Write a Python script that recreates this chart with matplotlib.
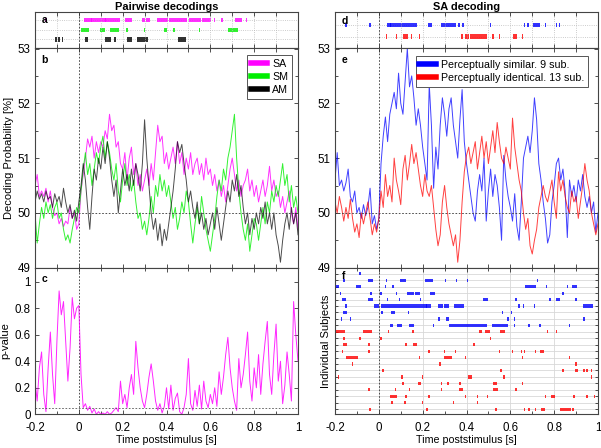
import numpy as np
import matplotlib
matplotlib.use('Agg')
import matplotlib.pyplot as plt
from matplotlib.ticker import MultipleLocator, NullFormatter

plt.rcParams['font.family'] = ['Liberation Sans', 'DejaVu Sans']
plt.rcParams['font.size'] = 8

## time axis, 10 ms steps from -0.2 to 1.0 s
t = np.round(np.arange(-0.2, 1.0001, 0.01), 2)

## panel b: pairwise decoding probability [%]
sa = [50.5, 50.7, 50.3, 50.4, 50.3, 50.45, 50.2, 50.4, 50.1, 49.95,
      50.0, 49.8, 49.9, 49.75, 49.85, 49.8, 50.1, 49.9, 50.0, 49.7,
      49.8, 50.4, 50.7, 51.0, 51.35, 51.2, 51.4, 51.0, 51.3, 51.1,
      51.3, 51.2, 51.5, 51.35, 51.8, 51.5, 51.6, 51.2, 51.3, 50.9,
      50.8, 51.1, 50.6, 51.0, 51.2, 50.7, 50.9, 50.5, 50.7, 50.4,
      50.6, 50.8, 50.5, 50.9, 50.6, 51.1, 51.6, 51.3, 51.4, 50.9,
      51.1, 50.8, 51.0, 51.2, 50.9, 51.3, 50.9, 51.1, 50.7, 51.0,
      50.8, 51.1, 50.7, 50.9, 51.0, 50.7, 50.9, 50.6, 51.0, 50.7,
      50.8, 50.5, 50.7, 50.4, 50.6, 50.3, 50.5, 50.2, 50.5, 50.8,
      51.0, 50.7, 50.4, 50.6, 50.3, 50.5, 50.6, 50.8, 50.4, 50.6,
      50.3, 50.5, 50.2, 50.4, 50.6, 50.3, 50.5, 50.85, 50.4, 50.6,
      50.3, 50.4, 50.1, 50.3, 50.0, 50.2, 50.4, 50.0, 49.8, 50.1,
      49.7]
sm = [50.0, 49.45, 49.8, 50.1, 49.9, 50.2, 50.0, 50.15, 49.9, 50.1,
      50.2, 49.9, 50.0, 49.7, 49.5, 49.6, 49.45, 49.7, 49.9, 50.1,
      50.0, 50.4, 50.8, 51.1, 50.7, 50.9, 50.5, 50.8, 51.1, 50.9,
      51.2, 51.4, 51.0, 51.3, 51.1, 50.8, 50.6, 50.9, 50.4, 50.2,
      50.6, 50.9, 50.5, 50.7, 50.4, 50.6, 50.2, 49.9, 50.0, 49.7,
      49.85, 49.6, 49.9, 50.3, 50.0, 50.5, 50.3, 50.7, 50.4, 50.6,
      50.3, 50.5, 50.2, 49.9, 50.1, 49.7, 49.9, 50.2, 50.0, 50.4,
      50.2, 49.8, 49.45, 49.8, 50.1, 49.8, 50.3, 50.0, 49.7, 49.5,
      49.3, 49.6, 49.9, 50.3, 50.6, 50.4, 50.8, 50.6, 51.0, 51.2,
      51.5, 51.8, 51.0, 50.4, 50.0, 49.7, 49.5, 49.8, 49.3, 49.6,
      49.9, 49.8, 49.5, 49.8, 50.1, 49.8, 50.2, 50.0, 50.4, 50.2,
      50.5, 50.3, 50.6, 50.9, 50.5, 50.7, 50.2, 50.5, 50.1, 50.3,
      50.0]
am = [50.2, 50.4, 50.25, 50.35, 50.2, 50.4, 50.25, 50.3, 50.1, 50.35,
      50.2, 50.3, 50.1, 50.45, 50.2, 50.0, 50.15, 49.9, 50.05, 49.85,
      50.2, 50.5, 50.9, 50.6, 50.1, 49.7, 50.3, 50.8, 50.6, 51.0,
      50.8, 51.2, 50.9, 51.3, 51.0, 50.6, 50.3, 50.6, 50.0, 50.4,
      50.8, 50.5, 50.7, 50.4, 50.8, 50.5, 50.9, 50.7, 50.4, 50.9,
      51.7, 51.0, 50.5, 50.0, 49.7, 49.9, 49.5, 49.8, 49.4, 49.7,
      49.5, 49.8, 50.1, 50.4, 50.8, 51.3, 51.1, 51.25, 50.9, 50.6,
      50.2, 50.4, 50.1, 49.9, 50.2, 49.8, 50.0, 49.7, 49.9, 49.6,
      49.8, 50.0, 49.7, 50.1, 49.8, 49.5, 49.8, 50.1, 50.4, 50.2,
      50.6, 50.4, 50.7, 50.3, 50.5, 50.1, 49.8, 50.0, 49.6, 49.9,
      49.7, 50.0, 49.8, 50.1, 49.9, 50.2, 49.8, 50.0, 49.7, 50.0,
      49.6, 49.4, 49.1, 49.5, 49.8, 50.0, 49.7, 50.1, 49.8, 50.0,
      49.6]

## panel c: p-value of SA decoding
pval = [0.25, 0.10, 0.35, 0.47, 0.15, 0.02, 0.35, 0.62, 0.30, 0.08,
        0.55, 0.93, 0.75, 0.85, 0.55, 0.25, 0.50, 0.88, 0.72, 0.80,
        0.82, 0.30, 0.05, 0.08, 0.03, 0.06, 0.01, 0.04, 0.00, 0.02,
        0.00, 0.01, 0.00, 0.02, 0.00, 0.01, 0.03, 0.05, 0.02, 0.25,
        0.08, 0.15, 0.05, 0.20, 0.30, 0.15, 0.55, 0.35, 0.20, 0.10,
        0.05, 0.15, 0.28, 0.38, 0.25, 0.10, 0.03, 0.08, 0.01, 0.06,
        0.20, 0.04, 0.22, 0.03, 0.12, 0.16, 0.02, 0.00, 0.05, 0.15,
        0.42, 0.08, 0.03, 0.18, 0.06, 0.22, 0.04, 0.25, 0.10, 0.05,
        0.15, 0.08, 0.20, 0.06, 0.32, 0.15, 0.28, 0.45, 0.58, 0.35,
        0.20, 0.10, 0.03, 0.42, 0.20, 0.30, 0.45, 0.62, 0.25, 0.10,
        0.35, 0.20, 0.45, 0.15, 0.38, 0.55, 0.70, 0.30, 0.15, 0.45,
        0.68, 0.25, 0.40, 0.08, 0.22, 0.47, 0.30, 0.10, 0.85, 0.60,
        0.40]

## panel e: SA decoding per group [%]
similar = [50.6, 51.1, 50.5, 50.6, 50.4, 50.55, 50.8, 50.3, 50.2, 50.4,
           50.0, 50.1, 49.9, 50.15, 49.95, 50.1, 50.45, 49.8, 49.95, 49.7,
           49.9, 50.9, 51.4, 51.75, 51.3, 51.8, 52.0, 52.2, 51.9, 52.55,
           52.0, 51.8, 52.4, 53.0, 52.3, 52.5, 52.1, 51.6, 51.9, 51.6,
           51.2, 50.9, 50.6, 52.35, 51.6, 50.45, 51.2, 50.8, 51.6, 52.1,
           51.8, 51.4, 51.9, 52.1, 51.6, 51.3, 51.0, 51.7, 52.25, 51.3,
           50.9, 50.6, 50.3, 50.0, 49.85, 50.4, 50.7, 50.4, 51.0, 49.85,
           50.4, 50.8, 50.3, 50.7, 50.5, 50.1, 49.5, 51.05, 50.6, 50.3,
           50.1, 49.85, 50.35, 49.75, 49.5, 50.2, 51.0, 51.2, 51.4, 51.1,
           51.5, 52.1, 51.7, 50.9, 50.6, 50.2, 49.9, 49.45, 49.6, 50.2,
           50.5, 50.9, 51.0, 50.6, 50.8, 50.4, 49.55, 50.6, 50.3, 50.5,
           50.2, 50.6, 50.4, 50.7, 50.3, 50.1, 50.3, 50.0, 50.2, 49.65,
           50.0]
identical = [50.2, 50.0, 50.3, 50.1, 49.85, 50.1, 49.9, 50.25, 49.9, 49.65,
             49.8, 49.55, 50.0, 49.8, 50.0, 50.2, 49.9, 49.6, 49.8, 49.65,
             49.9, 50.4, 50.1, 50.7, 50.3, 50.5, 50.2, 51.0, 50.6, 50.4,
             50.15, 50.8, 51.05, 50.6, 50.9, 51.25, 50.9, 51.1, 50.8, 50.5,
             50.3, 50.7, 50.4, 50.3, 50.5, 50.1, 49.7, 49.4, 49.6, 50.2,
             50.5, 50.1, 49.8, 49.6, 49.4, 49.6, 49.1, 49.5, 50.2, 50.75,
             51.05, 51.2, 50.9, 51.1, 51.3, 50.8, 51.1, 51.4, 51.0, 51.3,
             50.9, 51.2, 51.5, 51.1, 51.65, 51.3, 51.0, 50.9, 51.2, 51.0,
             50.8, 51.73, 51.2, 50.9, 50.6, 50.4, 50.0, 49.7, 49.9, 49.4,
             49.25, 49.5, 49.7, 50.1, 50.3, 50.5, 50.3, 50.2, 50.4, 50.6,
             50.2, 49.9, 50.75, 50.4, 50.6, 50.3, 50.1, 50.0, 50.4, 50.2,
             50.3, 49.9, 50.2, 50.5, 50.9, 50.6, 50.4, 50.0, 49.8, 49.6,
             49.8]

## significant time points (single points or (start, end) runs)
sig_sa = [-0.15, (0.025, 0.055), (0.06, 0.12), (0.125, 0.185), (0.215, 0.24),
          (0.29, 0.30), (0.31, 0.32), (0.36, 0.405), (0.415, 0.445), (0.45, 0.49),
          (0.505, 0.52), (0.53, 0.555), (0.565, 0.575), (0.585, 0.6), 0.62,
          (0.65, 0.655), (0.715, 0.74), 0.765]
sig_sm = [(0.015, 0.045), (0.1, 0.115), (0.145, 0.18), 0.22, 0.30, (0.39, 0.40),
          0.435, 0.55, (0.685, 0.705), (0.71, 0.725)]
sig_am = [-0.105, -0.09, -0.075, (0.03, 0.04), (0.125, 0.145), 0.165,
          (0.225, 0.24), (0.27, 0.31), (0.455, 0.485)]
sig_similar = [-0.15, -0.04, (0.04, 0.05), (0.055, 0.17), (0.23, 0.24), (0.285, 0.35),
               0.365, 0.385, 0.51, 0.665, 0.68, (0.705, 0.73), 0.76, 0.81, 0.825]
sig_identical = [0.035, 0.08, (0.115, 0.13), 0.15, 0.185, 0.38, (0.395, 0.41),
                 (0.42, 0.49), 0.52, 0.55, (0.615, 0.625), 0.655]

## panel f: individual subjects, top to bottom
subj_similar = [
    [-0.085],
    [-0.16, (-0.045, -0.03), 0.035, (0.1, 0.12), (0.215, 0.245), 0.305, 0.355, 0.405, 0.725],
    [(-0.195, -0.185), (-0.1, -0.085), 0.03, 0.065, (0.67, 0.715), 0.765, 0.86, (0.885, 0.9)],
    [-0.175, -0.035, 0.01, 0.08, (0.13, 0.155), (0.17, 0.185), (0.235, 0.255), 0.84],
    [(-0.165, -0.155), (-0.045, -0.03), 0.04, 0.095, 0.19, (0.48, 0.495), 0.625, 0.78,
     (0.81, 0.825), 0.9],
    [-0.15, (-0.02, -0.005), (0.015, 0.215), (0.22, 0.235), (0.275, 0.29), (0.3, 0.315),
     (0.345, 0.385), 0.64, 0.66, 0.71, (0.935, 0.975)],
    [(-0.16, -0.15), 0.015, (0.06, 0.07), 0.135, 0.565, 0.605],
    [-0.17, -0.13, 0.275, (0.31, 0.315), 0.59, 0.62, 0.935],
    [(0.055, 0.06), (0.085, 0.1), (0.14, 0.155), 0.25, (0.325, 0.49), (0.52, 0.585),
     0.62, 0.685, 0.735, 0.87],
]
subj_identical = [
    [(-0.19, -0.16), (-0.07, -0.035), 0.045, 0.155, (0.46, 0.465), (0.49, 0.505),
     (0.555, 0.57), 0.77, 0.81],
    [-0.16, -0.085, 0.01, 0.51],
    [(-0.16, -0.15), -0.045, 0.125, (0.16, 0.17), 0.435],
    [-0.165, -0.045, 0.23, 0.3, 0.35, 0.55, 0.61, 0.65, 0.665, 0.715, (0.74, 0.75)],
    [(-0.145, -0.1), 0.185, (0.3, 0.33), 0.395, 0.655, 0.87],
    [-0.12, 0.28, 0.9],
    [0.02, (0.555, 0.56), 0.84, (0.9, 0.905), 0.935, 0.95, 0.97],
    [-0.185, 0.105, 0.2, (0.41, 0.42), 0.57, 0.97],
    [0.11, (0.18, 0.19), 0.285, 0.315, 0.37, (0.525, 0.535), 0.655],
    [-0.045, 0.075, 0.14, 0.285, (0.37, 0.38), (0.525, 0.54), 0.625],
    [(0.055, 0.08), 0.125, 0.23, 0.395, 0.45, 0.495, 0.76, (0.79, 0.8), 0.89, 0.95, 0.985],
    [0.06, 0.12, 0.2, 0.34, 0.45],
    [-0.04, 0.22, 0.535, 0.665, 0.685, 0.715, (0.745, 0.755), (0.83, 0.875), 0.885],
]

MAG = '#ff00ff'
GRN = '#00ee00'
BLU = '#0000ff'
RED = '#ff0000'
LBL = 7.7


def raster(ax, marks, y, color, h):
    w = 0.007
    bars = []
    for m in marks:
        if isinstance(m, tuple):
            bars.append((m[0] - w / 2, m[1] - m[0] + w))
        else:
            bars.append((m - w / 2, w))
    ax.broken_barh(bars, (y - h / 2, h), facecolors=color, edgecolor='none', alpha=0.8)


def style(ax):
    ax.set_xlim(-0.2, 1.0)
    ax.xaxis.set_major_locator(MultipleLocator(0.2))
    ax.xaxis.set_minor_locator(MultipleLocator(0.1))
    ax.tick_params(which='both', direction='in', top=True, right=True,
                   length=3, width=0.6, colors='#333333', labelcolor='black',
                   labelsize=8.3)
    ax.tick_params(axis='x', pad=5.5)
    ax.tick_params(axis='y', pad=3)
    ax.tick_params(which='minor', length=2)
    for s in ax.spines.values():
        s.set_color('#444444')
        s.set_linewidth(0.8)
    ax.axvline(0, color='#333333', ls=(0, (2, 2)), lw=0.6)


def letter(ax, s, y=0.93):
    ax.text(0.025, y, s, transform=ax.transAxes, fontweight='bold',
            fontsize=7.5, va='top', ha='left')


def thick_legend(ax, anchor, hl):
    leg = ax.legend(loc='upper right', bbox_to_anchor=anchor, borderaxespad=0,
                    fontsize=LBL, handlelength=hl, handletextpad=0.5,
                    borderpad=0.35, labelspacing=0.3, fancybox=False,
                    edgecolor='#555555', framealpha=1)
    leg.get_frame().set_linewidth(0.7)
    for ln in leg.get_lines():
        ln.set_linewidth(4)
        ln.set_alpha(1)


fig = plt.figure(figsize=(6.01, 4.48), dpi=100)

L, R, W = 35 / 601, 335 / 601, 263 / 601
ya, ha = 1 - 48.5 / 448, 36.2 / 448
yb, hb = 1 - 267.7 / 448, 219.2 / 448
yc, hc = 1 - 414.3 / 448, 146.6 / 448

ax_a = fig.add_axes([L, ya, W, ha])
ax_b = fig.add_axes([L, yb, W, hb])
ax_c = fig.add_axes([L, yc, W, hc])
ax_d = fig.add_axes([R, ya, W, ha])
ax_e = fig.add_axes([R, yb, W, hb])
ax_f = fig.add_axes([R, yc, W, hc])

## a, d: significance rasters
for ax in (ax_a, ax_d):
    style(ax)
    ax.xaxis.set_major_locator(MultipleLocator(0.1))
    ax.xaxis.set_major_formatter(NullFormatter())
    ax.set_yticks([])
    ax.grid(True, axis='x', color='#bbbbbb', ls=':', lw=0.6)

ax_a.set_ylim(0.05, 3.8)
for y in (1, 2, 3):
    ax_a.axhline(y, color='#bbbbbb', ls=':', lw=0.6, zorder=0)
raster(ax_a, sig_sa, 3, MAG, 0.45)
raster(ax_a, sig_sm, 2, GRN, 0.45)
raster(ax_a, sig_am, 1, 'black', 0.45)
ax_a.set_title('Pairwise decodings', fontweight='bold', fontsize=7.9, pad=1.5)
letter(ax_a, 'a', 0.92)

ax_d.set_ylim(0.0, 3.1)
for y in (1, 2):
    ax_d.axhline(y, color='#bbbbbb', ls=':', lw=0.6, zorder=0)
raster(ax_d, sig_similar, 2.0, BLU, 0.4)
raster(ax_d, sig_identical, 1.0, RED, 0.4)
ax_d.set_title('SA decoding', fontweight='bold', fontsize=7.9, pad=1.5)
letter(ax_d, 'd', 0.9)

## b: decoding curves
style(ax_b)
ax_b.plot(t, sa, color=MAG, lw=0.7, alpha=0.8, label='SA')
ax_b.plot(t, sm, color=GRN, lw=0.7, alpha=0.8, label='SM')
ax_b.plot(t, am, color='black', lw=0.7, alpha=0.7, label='AM')
ax_b.axhline(50, color='#333333', ls=(0, (2, 2)), lw=0.6)
ax_b.set_ylim(49, 53)
ax_b.yaxis.set_major_locator(MultipleLocator(1))
ax_b.yaxis.set_minor_locator(MultipleLocator(0.5))
ax_b.xaxis.set_major_locator(MultipleLocator(0.1))
ax_b.xaxis.set_major_formatter(NullFormatter())
ax_b.set_ylabel('Decoding Probability [%]', fontsize=8, labelpad=3)
thick_legend(ax_b, (0.977, 0.97), 1.5)
letter(ax_b, 'b', 0.97)

## c: p-value
style(ax_c)
ax_c.plot(t, pval, color=MAG, lw=0.7, alpha=0.85)
ax_c.axhline(0.05, color='#555555', ls=(0, (2, 2)), lw=0.6)
ax_c.set_ylim(0, 1.105)
ax_c.set_yticks([0, 0.2, 0.4, 0.6, 0.8, 1])
ax_c.set_yticklabels(['0', '0.2', '0.4', '0.6', '0.8', '1'])
ax_c.set_xticks([-0.2, 0, 0.2, 0.4, 0.6, 0.8, 1])
ax_c.set_xticklabels(['-0.2', '0', '0.2', '0.4', '0.6', '0.8', '1'])
ax_c.set_ylabel('p-value', fontsize=8, labelpad=3)
ax_c.set_xlabel('Time poststimulus [s]', fontsize=LBL, labelpad=1)
letter(ax_c, 'c', 0.96)

## e: SA decoding per group
style(ax_e)
ax_e.plot(t, similar, color=BLU, lw=0.7, alpha=0.75, label='Perceptually similar. 9 sub.')
ax_e.plot(t, identical, color=RED, lw=0.7, alpha=0.75, label='Perceptually identical. 13 sub.')
ax_e.axhline(50, color='#333333', ls=(0, (2, 2)), lw=0.6)
ax_e.set_ylim(49, 53)
ax_e.yaxis.set_major_locator(MultipleLocator(1))
ax_e.yaxis.set_minor_locator(MultipleLocator(0.5))
ax_e.xaxis.set_major_locator(MultipleLocator(0.1))
ax_e.xaxis.set_major_formatter(NullFormatter())
thick_legend(ax_e, (0.962, 0.966), 1.5)
letter(ax_e, 'e', 0.97)

## f: individual subjects
style(ax_f)
n_sim, n_id = len(subj_similar), len(subj_identical)
n_tot = n_sim + n_id
ax_f.set_ylim(0.2, n_tot + 0.95)
ax_f.set_yticks(np.arange(1, n_tot + 1))
ax_f.yaxis.set_major_formatter(NullFormatter())
ax_f.tick_params(axis='y', which='major', length=2)
ax_f.grid(True, color='#d8d8d8', lw=0.6)
ax_f.set_axisbelow(True)
for i, marks in enumerate(subj_similar):
    raster(ax_f, marks, n_tot - i, BLU, 0.5)
for i, marks in enumerate(subj_identical):
    raster(ax_f, marks, n_tot - n_sim - i, RED, 0.5)
ax_f.set_xticks([-0.2, 0, 0.2, 0.4, 0.6, 0.8, 1])
ax_f.set_xticklabels(['-0.2', '0', '0.2', '0.4', '0.6', '0.8', '1'])
ax_f.set_ylabel('Individual Subjects', fontsize=8, labelpad=0)
ax_f.set_xlabel('Time poststimulus [s]', fontsize=LBL, labelpad=1)
letter(ax_f, 'f', 0.98)

plt.savefig('out.png', dpi=100)
